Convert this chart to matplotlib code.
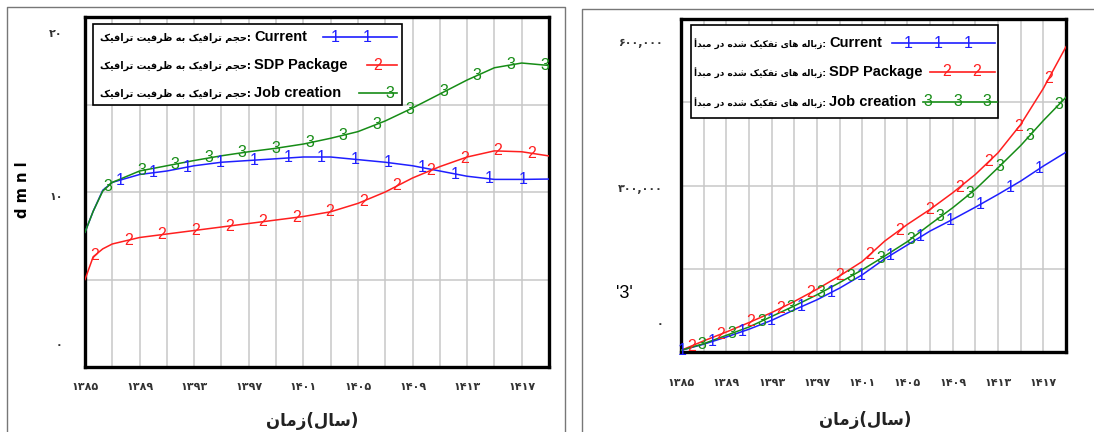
import numpy as np
import matplotlib
matplotlib.use('Agg')
import matplotlib.pyplot as plt
from matplotlib.patches import Rectangle
from matplotlib.lines import Line2D
from matplotlib.transforms import ScaledTranslation

# ---- data ----
years_left = [1385, 1385.6, 1386.3, 1387, 1389, 1391, 1393, 1395, 1397, 1399,
              1401, 1403, 1405, 1407, 1409, 1411, 1413, 1415, 1417, 1419]
traffic_current = [7.7, 8.9, 10.1, 10.55, 11.0, 11.2, 11.5, 11.7, 11.8, 11.9,
                   12.0, 12.0, 11.85, 11.7, 11.5, 11.2, 10.9, 10.72, 10.72, 10.74]
traffic_sdp = [5.0, 6.3, 6.75, 7.03, 7.4, 7.6, 7.8, 8.0, 8.2, 8.4,
               8.6, 8.87, 9.35, 10.0, 10.8, 11.45, 12.0, 12.35, 12.3, 12.06]
traffic_job = [7.7, 8.9, 10.05, 10.55, 11.2, 11.5, 11.8, 12.07, 12.3, 12.5,
               12.74, 13.07, 13.45, 14.06, 14.8, 15.6, 16.4, 17.1, 17.37, 17.23]

years_right = list(range(1385, 1420, 2))
waste_current = [3, 14, 27, 41, 57, 76, 94, 115, 139, 168, 193, 218, 239, 261, 284, 308, 335, 360]
waste_sdp = [3, 20, 36, 53, 71, 91, 113, 137, 163, 200, 230, 257, 287, 320, 359, 410, 475, 550]
waste_job = [3, 15, 30, 45, 64, 83, 103, 125, 148, 173, 199, 230, 260, 293, 332, 372, 417, 459]
waste_current = [v * 1000 for v in waste_current]
waste_sdp = [v * 1000 for v in waste_sdp]
waste_job = [v * 1000 for v in waste_job]

x_ticks = list(range(1385, 1418, 4))
x_tick_labels = ['۱۳۸۵', '۱۳۸۹', '۱۳۹۳', '۱۳۹۷', '۱۴۰۱', '۱۴۰۵', '۱۴۰۹', '۱۴۱۳', '۱۴۱۷']
left_y_ticks = [0, 10, 20]
left_y_labels = ['۰', '۱۰', '۲۰']
right_y_ticks = [0, 300000, 600000]
right_y_labels = ['۰', '۳۰۰,۰۰۰', '۶۰۰,۰۰۰']

run_names = ['Current', 'SDP Package', 'Job creation']
run_digits = ['1', '2', '3']
colors = ['#1f1fff', '#ff1f1f', '#168c16']
left_var = 'حجم ترافیک به ظرفیت ترافیک'
right_var = 'زباله های تفکیک شده در مبدأ'
time_word, year_word = 'زمان', 'سال'

# ---- tiny Persian shaper (matplotlib does no Arabic shaping) ----
FORMS = {
    'ا': ('\uFE8D', '\uFE8E', None, None),
    'أ': ('\uFE83', '\uFE84', None, None),
    'ب': ('\uFE8F', '\uFE90', '\uFE91', '\uFE92'),
    'ت': ('\uFE95', '\uFE96', '\uFE97', '\uFE98'),
    'ج': ('\uFE9D', '\uFE9E', '\uFE9F', '\uFEA0'),
    'ح': ('\uFEA1', '\uFEA2', '\uFEA3', '\uFEA4'),
    'د': ('\uFEA9', '\uFEAA', None, None),
    'ر': ('\uFEAD', '\uFEAE', None, None),
    'ز': ('\uFEAF', '\uFEB0', None, None),
    'س': ('\uFEB1', '\uFEB2', '\uFEB3', '\uFEB4'),
    'ش': ('\uFEB5', '\uFEB6', '\uFEB7', '\uFEB8'),
    'ظ': ('\uFEC5', '\uFEC6', '\uFEC7', '\uFEC8'),
    'ف': ('\uFED1', '\uFED2', '\uFED3', '\uFED4'),
    'ل': ('\uFEDD', '\uFEDE', '\uFEDF', '\uFEE0'),
    'م': ('\uFEE1', '\uFEE2', '\uFEE3', '\uFEE4'),
    'ن': ('\uFEE5', '\uFEE6', '\uFEE7', '\uFEE8'),
    'ه': ('\uFEE9', '\uFEEA', '\uFEEB', '\uFEEC'),
    'و': ('\uFEED', '\uFEEE', None, None),
    'ی': ('\uFBFC', '\uFBFD', '\uFBFE', '\uFBFF'),
    'ک': ('\uFB8E', '\uFB8F', '\uFB90', '\uFB91'),
}


def fa(text):
    # shape + reverse one right-to-left phrase into visual order
    out = []
    for i, ch in enumerate(text):
        if ch not in FORMS:
            out.append(ch)
            continue
        iso, fin, ini, med = FORMS[ch]
        prev = text[i - 1] if i > 0 else ''
        nxt = text[i + 1] if i + 1 < len(text) else ''
        jp = prev in FORMS and FORMS[prev][2] is not None
        jn = ini is not None and nxt in FORMS
        if jp and jn:
            out.append(med)
        elif jp:
            out.append(fin)
        elif jn:
            out.append(ini)
        else:
            out.append(iso)
    return ''.join(reversed(out))


W, H = 1094, 432
fig = plt.figure(figsize=(W / 100, H / 100), dpi=100)
FA = ['DejaVu Sans']
NUM = ['Liberation Sans Narrow', 'Liberation Sans', 'DejaVu Sans']
x_title = fa(time_word) + '(' + fa(year_word) + ')'


def px(x, y):
    return x / W, 1 - y / H


def fit_width(t, target):
    w = t.get_window_extent(fig.canvas.get_renderer()).width
    t.set_fontsize(t.get_fontsize() * target / w)


def add_markers(ax, xs, ys, digit, color, start, step):
    pos = np.arange(start, xs[-1], step)
    for x, y in zip(pos, np.interp(pos, xs, ys)):
        ax.text(x, y, digit, color=color, fontsize=11.5, family=NUM,
                ha='center', va='center', zorder=4)


def style_axes(ax, ylim, yticks, ylabels, yminor, y_pad, x_pad, shifts):
    ax.set_xlim(1385, 1419)
    ax.set_ylim(*ylim)
    ax.set_xticks(x_ticks)
    ax.set_xticklabels(x_tick_labels, family=FA, fontweight='bold',
                       fontsize=8, color='#333333')
    ax.set_xticks(np.arange(1385, 1420, 2), minor=True)
    ax.set_yticks(yticks)
    ax.set_yticklabels(ylabels, family=FA, fontweight='bold',
                       fontsize=8, color='#333333')
    ax.set_yticks(yminor, minor=True)
    ax.grid(True, which='both', color='#c8c8c8', lw=1.1)
    ax.set_axisbelow(True)
    ax.tick_params(which='both', length=0)
    ax.tick_params(axis='y', pad=y_pad)
    ax.tick_params(axis='x', pad=x_pad)
    for s in ax.spines.values():
        s.set_linewidth(2.4)
        s.set_color('black')
    for lab, dy in zip(ax.get_yticklabels(), shifts):
        lab.set_transform(lab.get_transform() +
                          ScaledTranslation(0, -dy / 100, fig.dpi_scale_trans))


def legend(box, rows, text_x, var, text_w, handles):
    x0, y0, x1, y1 = box
    fig.patches.append(Rectangle(px(x0, y1), (x1 - x0) / W, (y1 - y0) / H,
                                 transform=fig.transFigure, facecolor='white',
                                 edgecolor='black', lw=1.2, zorder=5))
    for y, name, digit, color, (lx0, lx1, marks) in zip(rows, run_names, run_digits,
                                                        colors, handles):
        t = fig.text(*px(text_x - 1, y + 1), fa(var) + ':', family=FA, fontsize=8,
                     fontweight='bold', ha='right', va='center', zorder=6)
        fit_width(t, text_w)
        fig.text(*px(text_x + 2, y), name, family=NUM, fontsize=10.5,
                 fontweight='bold', ha='left', va='center', zorder=6)
        fig.lines.append(Line2D([lx0 / W, lx1 / W], [1 - y / H, 1 - y / H],
                                transform=fig.transFigure, color=color,
                                lw=1.2, zorder=6))
        for m in marks:
            fig.text(*px(m, y), digit, color=color, fontsize=11.5, family=NUM,
                     ha='center', va='center', zorder=7)


# outer frames
fig.lines.append(Line2D([7 / W, 7 / W, 565 / W, 565 / W], [0, 1 - 7 / H, 1 - 7 / H, 0],
                        transform=fig.transFigure, color='#777777', lw=1.0))
fig.lines.append(Line2D([582 / W, 582 / W, 1.0], [0, 1 - 9 / H, 1 - 9 / H],
                        transform=fig.transFigure, color='#777777', lw=1.0))

# ---- left chart ----
ax1 = fig.add_axes([85 / W, (H - 367) / H, 464 / W, 350 / H])
for ys, c, d, st in zip([traffic_current, traffic_sdp, traffic_job], colors,
                        run_digits, [1387.56, 1385.73, 1386.69]):
    ax1.plot(years_left, ys, color=c, lw=1.1, zorder=3)
    add_markers(ax1, years_left, ys, d, c, st, 2.46)
style_axes(ax1, (0, 20), left_y_ticks, left_y_labels, [5, 15], 16, 11,
           [-23, 4, 16])
ax1.set_xlabel(x_title, family=FA, fontsize=12, fontweight='bold', color='#222222')
ax1.xaxis.set_label_coords(0.489, -0.154)
ax1.xaxis.label.set_va('center')
ax1.set_ylabel('d m n l', fontsize=10.5, fontweight='bold', family=['DejaVu Sans'])
ax1.yaxis.set_label_coords(-0.134, 0.506)
ax1.yaxis.label.set_va('center')

# ---- right chart ----
ax2 = fig.add_axes([681 / W, (H - 352) / H, 385 / W, 333 / H])
for ys, c, d, st in zip([waste_current, waste_sdp, waste_job], colors,
                        run_digits, [1385.1, 1385.9, 1386.85]):
    ax2.plot(years_right, ys, color=c, lw=1.1, zorder=3)
    add_markers(ax2, years_right, ys, d, c, st, 2.63)
style_axes(ax2, (0, 600000), right_y_ticks, right_y_labels, [150000, 450000],
           13, 19, [-29, 3, 23])
ax2.set_xlabel(x_title, family=FA, fontsize=12, fontweight='bold', color='#222222')
ax2.xaxis.set_label_coords(0.478, -0.204)
ax2.xaxis.label.set_va('center')
fig.text(*px(624, 293), "'3'", fontsize=13, family=NUM, ha='center', va='center')

# legends
legend((93, 24, 402, 105), [37, 65, 93], 252, left_var, 152,
       [(323, 397, [335, 367]), (367, 397, [378]), (359, 397, [390])])
legend((691, 25, 998, 118), [43, 72, 102], 827, right_var, 132,
       [(892, 995, [908, 938, 968]), (930, 995, [947, 977]), (923, 997, [928, 958, 987])])

fig.savefig('out.png', dpi=100)
